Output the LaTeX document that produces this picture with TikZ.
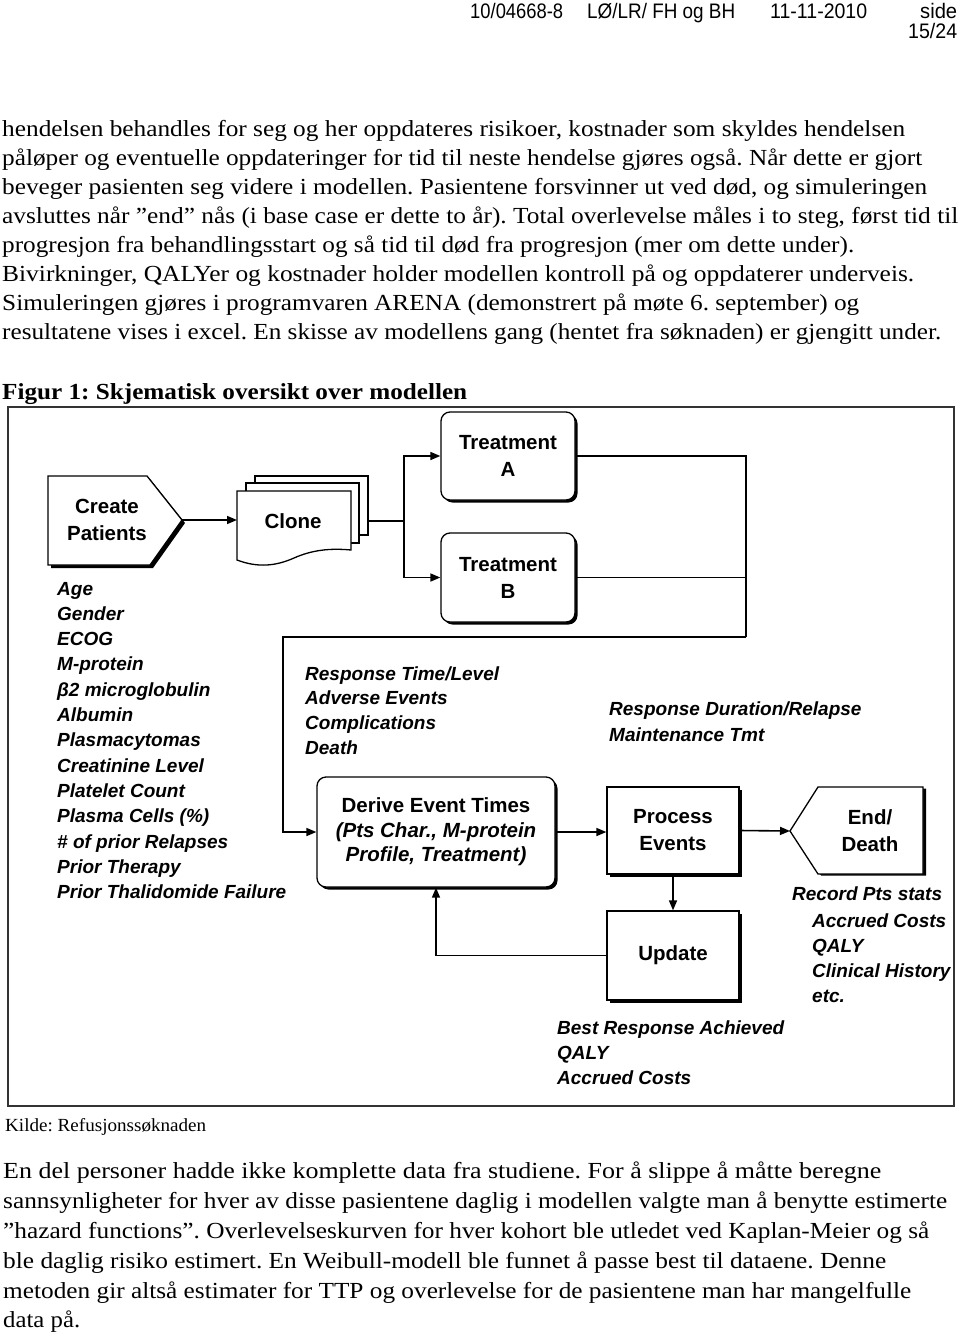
\documentclass[tikz,border=0pt]{standalone}
\usepackage{fontspec}
\usepackage{graphicx}
\setmainfont{Liberation Serif}
\setsansfont{Liberation Sans}
\usetikzlibrary{arrows.meta}
\newcommand{\fitw}[2]{\resizebox{#1pt}{\height}{#2}}
\frenchspacing
\begin{document}
\begin{tikzpicture}[x=1pt,y=-1pt,
  body/.style={anchor=base west, inner sep=0pt, font=\fontsize{23}{28}\selectfont},
  hdr/.style={anchor=base west, inner sep=0pt, font=\sffamily\fontsize{21}{24}\selectfont},
  lab/.style={anchor=base west, inner sep=0pt, font=\sffamily\bfseries\itshape\fontsize{19}{25}\selectfont},
  boxtxt/.style={font=\sffamily\bfseries\fontsize{20.5}{27}\selectfont, align=center},
  conn/.style={line width=1.6pt},
  arr/.style={conn, -{Triangle[length=10pt,width=8pt]}},
  shp/.style={line width=1.3pt, fill=white},
  shad/.style={preaction={fill=black, transform canvas={shift={(2.5pt,-2.5pt)}}}},
  rbox/.style={shp, draw, shad, rounded corners=9pt, inner sep=0pt},
  sbox/.style={shp, draw, shad, inner sep=0pt}
]
\useasboundingbox[fill=white] (0,0) rectangle (960,1341);

% header
\node[hdr] (h1) at (470,19) {\fitw{93}{10/04668-8}};
\node[hdr] (h2) at (587,19) {\fitw{148}{LØ/LR/ FH og BH}};
\node[hdr] (h3) at (770,19) {\fitw{97}{11-11-2010}};
\node[hdr] (h4) at (920,19) {\fitw{37}{side}};
\node[hdr] (h5) at (908,38) {\fitw{49}{15/24}};

% body text top
\node[body] (t1) at (2,136) {\fitw{903}{hendelsen behandles for seg og her oppdateres risikoer, kostnader som skyldes hendelsen}};
\node[body] (t2) at (2,165) {\fitw{920}{påløper og eventuelle oppdateringer for tid til neste hendelse gjøres også. Når dette er gjort}};
\node[body] (t3) at (2,194) {\fitw{925}{beveger pasienten seg videre i modellen. Pasientene forsvinner ut ved død, og simuleringen}};
\node[body] (t4) at (2,223) {\fitw{956}{avsluttes når ”end” nås (i base case er dette to år). Total overlevelse måles i to steg, først tid til}};
\node[body] (t5) at (2,252) {\fitw{852}{progresjon fra behandlingsstart og så tid til død fra progresjon (mer om dette under).}};
\node[body] (t6) at (2,281) {\fitw{912}{Bivirkninger, QALYer og kostnader holder modellen kontroll på og oppdaterer underveis.}};
\node[body] (t7) at (2,310) {\fitw{857}{Simuleringen gjøres i programvaren ARENA (demonstrert på møte 6. september) og}};
\node[body] (t8) at (2,339) {\fitw{939}{resultatene vises i excel. En skisse av modellens gang (hentet fra søknaden) er gjengitt under.}};
\node[body, font=\bfseries\fontsize{23}{28}\selectfont] (cap) at (2,399) {\fitw{465}{Figur 1: Skjematisk oversikt over modellen}};

% frame
\draw[line width=1.4pt, black!80] (8,407) rectangle (954,1106);

% Create Patients
\fill[black, shift={(3,3)}] (48,476) -- (147,476) -- (182,520) -- (150,565) -- (48,565) -- cycle;
\draw[shp] (48,476) -- (147,476) -- (182,520) -- (150,565) -- (48,565) -- cycle;
\node[boxtxt] (cp) at (107,520) {Create\\Patients};
\coordinate (cptip) at (182,520);

% Clone (stacked documents)
\draw[shp] (255,476) rectangle (368,535);
\draw[shp] (246,483) rectangle (359,543);
\draw[shp] (237,491) -- (351,491) -- (351,550) .. controls (330,548) and (312,550) .. (294,558) .. controls (276,566) and (258,568) .. (237,560) -- cycle;
\node[boxtxt] (clone) at (293,521) {Clone};
\coordinate (clonein) at (237,520);
\coordinate (cloneout) at (368,521);
\coordinate (split) at (404,521);

% treatments
\node[rbox, minimum width=134pt, minimum height=88pt, boxtxt] (TA) at (508,456) {Treatment\\A};
\node[rbox, minimum width=134pt, minimum height=89pt, boxtxt] (TB) at (508,577.5) {Treatment\\B};
\coordinate (mr) at (746,637);
\coordinate (ml) at (283,637);

% derive
\node[rbox, minimum width=238pt, minimum height=110pt, font=\sffamily\bfseries\fontsize{20.5}{24.5}\selectfont, align=center] (DE) at (436,832)
  {Derive Event Times\\\itshape (Pts Char., M-protein\\\itshape Profile, Treatment)};

% process, update
\node[sbox, minimum width=132pt, minimum height=87pt, boxtxt] (PE) at (673,830.5) {Process\\Events};
\node[sbox, minimum width=132pt, minimum height=89pt, boxtxt] (UP) at (673,955.5) {Update};

% End/Death
\fill[black, shift={(3,1.5)}] (790,831) -- (818,787) -- (923,787) -- (923,874) -- (818,874) -- cycle;
\draw[shp] (790,831) -- (818,787) -- (923,787) -- (923,874) -- (818,874) -- cycle;
\node[boxtxt] (ED) at (870,831) {End/\\Death};
\coordinate (edtip) at (790,831);

% connectors
\draw[arr] (cptip) -- (clonein);
\draw[conn] (cloneout) -- (split);
\draw[arr] (split) |- (TA.west);
\draw[arr] (split) |- (TB.west);
\draw[conn] (TA.east) -| (mr);
\draw[conn] (TB.east) -- (TB.east -| mr);
\draw[arr] (mr) -- (ml) |- (DE.west);
\draw[arr] (DE.east) -- (DE.east -| PE.west);
\draw[arr] (PE.east) -- (edtip);
\draw[arr] (PE.south) -- (UP.north);
\draw[arr] (UP.west) -| (DE.south);

% patient attributes
\node[lab] (a1) at (57,595) {Age};
\node[lab] (a2) at (57,620.3) {Gender};
\node[lab] (a3) at (57,645.6) {ECOG};
\node[lab] (a4) at (57,670.9) {M-protein};
\node[lab] (a5) at (57,696.2) {β2 microglobulin};
\node[lab] (a6) at (57,721.5) {Albumin};
\node[lab] (a7) at (57,746.8) {Plasmacytomas};
\node[lab] (a8) at (57,772.1) {Creatinine Level};
\node[lab] (a9) at (57,797.4) {Platelet Count};
\node[lab] (a10) at (57,822.7) {Plasma Cells (\%)};
\node[lab] (a11) at (57,848) {\# of prior Relapses};
\node[lab] (a12) at (57,873.3) {Prior Therapy};
\node[lab] (a13) at (57,898.6) {Prior Thalidomide Failure};

% response list
\node[lab] (r1) at (305,680) {Response Time/Level};
\node[lab] (r2) at (305,704.5) {Adverse Events};
\node[lab] (r3) at (305,729) {Complications};
\node[lab] (r4) at (305,754) {Death};

\node[lab] (d1) at (609,715) {Response Duration/Relapse};
\node[lab] (d2) at (609,741) {Maintenance Tmt};

\node[lab] (s1) at (792,900) {Record Pts stats};
\node[lab] (s2) at (812,927) {Accrued Costs};
\node[lab] (s3) at (812,952) {QALY};
\node[lab] (s4) at (812,977) {Clinical History};
\node[lab] (s5) at (812,1002) {etc.};

\node[lab] (b1) at (557,1034) {Best Response Achieved};
\node[lab] (b2) at (557,1059) {QALY};
\node[lab] (b3) at (557,1084) {Accrued Costs};

% source
\node[body, font=\fontsize{18.5}{22}\selectfont] (src) at (5,1131) {\fitw{201}{Kilde: Refusjonssøknaden}};

% body text bottom
\node[body] (u1) at (3,1178) {\fitw{878}{En del personer hadde ikke komplette data fra studiene. For å slippe å måtte beregne}};
\node[body] (u2) at (3,1208) {\fitw{944}{sannsynligheter for hver av disse pasientene daglig i modellen valgte man å benytte estimerte}};
\node[body] (u3) at (3,1238) {\fitw{926}{”hazard functions”. Overlevelseskurven for hver kohort ble utledet ved Kaplan-Meier og så}};
\node[body] (u4) at (3,1268) {\fitw{883}{ble daglig risiko estimert. En Weibull-modell ble funnet å passe best til dataene. Denne}};
\node[body] (u5) at (3,1298) {\fitw{908}{metoden gir altså estimater for TTP og overlevelse for de pasientene man har mangelfulle}};
\node[body] (u6) at (3,1327) {\fitw{77}{data på.}};
\end{tikzpicture}
\end{document}
